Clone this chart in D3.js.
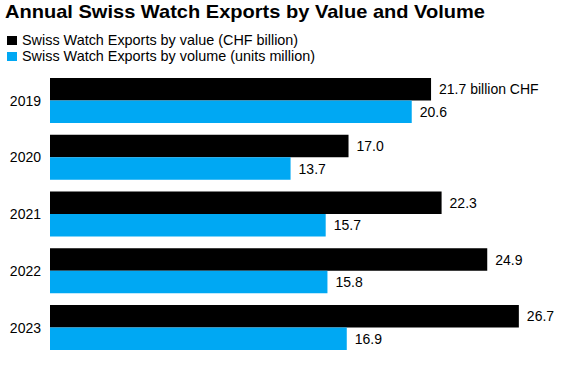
<!DOCTYPE html>
<html lang="en">
<head>
    <meta charset="UTF-8">
    <title>Annual Swiss Watch Exports</title>
    <script src="https://d3js.org/d3.v7.min.js"></script>
    <style>
        body { margin: 0; background: #ffffff; }
        text { font-family: "Liberation Sans", Arial, sans-serif; }
    </style>
</head>
<body>
    <div id="chart"></div>
    <script>

        // data
        const years = ["2019", "2020", "2021", "2022", "2023"];
        const valueCHF = [21.7, 17.0, 22.3, 24.9, 26.7];      // CHF billion
        const volumeUnits = [20.6, 13.7, 15.7, 15.8, 16.9];   // units million
        const seriesNames = [
            "Swiss Watch Exports by value (CHF billion)",
            "Swiss Watch Exports by volume (units million)"
        ];
        const seriesColors = ["#000000", "#00a8f3"];

        const width = 574, height = 370;

        const svg = d3.select("#chart")
            .append("svg")
            .attr("width", width)
            .attr("height", height);

        // title (reference font is wider, so stretch it a little)
        svg.append("text")
            .attr("x", 5)
            .attr("y", 18)
            .attr("font-size", "19px")
            .attr("font-weight", "bold")
            .attr("fill", "#000")
            .attr("textLength", 480)
            .attr("lengthAdjust", "spacingAndGlyphs")
            .text("Annual Swiss Watch Exports by Value and Volume");

        // legend
        const legend = svg.selectAll(".legend")
            .data(seriesNames)
            .join("g")
            .attr("class", "legend")
            .attr("transform", (d, i) => `translate(7, ${36 + i * 16})`);

        legend.append("rect")
            .attr("width", 10)
            .attr("height", 9)
            .attr("fill", (d, i) => seriesColors[i]);

        legend.append("text")
            .attr("x", 15)
            .attr("y", 8.5)
            .attr("font-size", "14.4px")
            .attr("fill", "#000")
            .text(d => d);

        // scales
        const x = d3.scaleLinear()
            .domain([0, 30])
            .range([50, 50 + 30 * 17.56]);

        const y = d3.scaleBand()
            .domain(years)
            .range([78, 350])
            .paddingInner(0.207)
            .paddingOuter(0);

        const bh = y.bandwidth() / 2;

        const rows = years.map((yr, i) => ({ year: yr, v: [valueCHF[i], volumeUnits[i]] }));

        const group = svg.selectAll(".row")
            .data(rows)
            .join("g")
            .attr("class", "row")
            .attr("transform", d => `translate(0, ${y(d.year)})`);

        // bars
        group.selectAll("rect")
            .data(d => d.v.map((v, k) => ({ v, k })))
            .join("rect")
            .attr("x", x(0))
            .attr("y", d => d.k * bh)
            .attr("width", d => x(d.v) - x(0))
            .attr("height", bh)
            .attr("fill", d => seriesColors[d.k]);

        // value labels
        group.selectAll(".val")
            .data((d, i) => d.v.map((v, k) => ({ v, k, first: i === 0 })))
            .join("text")
            .attr("class", "val")
            .attr("x", d => x(d.v) + 8)
            .attr("y", d => d.k * bh + bh / 2)
            .attr("dy", "0.36em")
            .attr("font-size", "14px")
            .attr("fill", "#000")
            .text(d => d.v.toFixed(1) + (d.first && d.k === 0 ? " billion CHF" : ""));

        // year labels
        group.append("text")
            .attr("x", 41)
            .attr("y", bh)
            .attr("dy", "0.36em")
            .attr("text-anchor", "end")
            .attr("font-size", "14px")
            .attr("fill", "#000")
            .text(d => d.year);

    </script>
</body>
</html>
